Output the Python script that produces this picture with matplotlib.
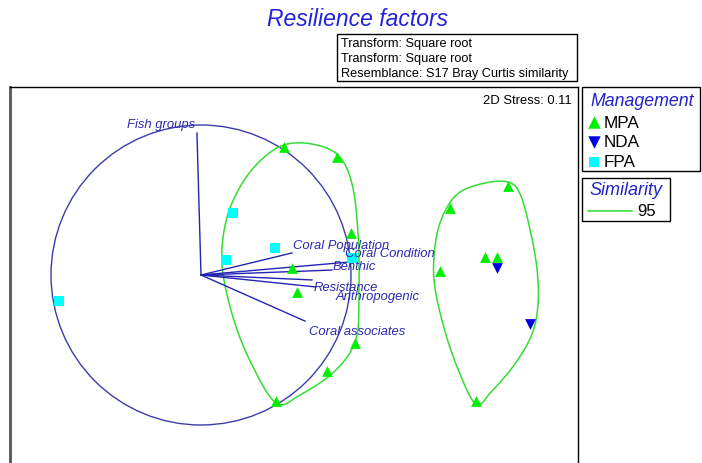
import numpy as np
import matplotlib
matplotlib.use("Agg")
import matplotlib.pyplot as plt
from matplotlib.patches import Rectangle, Circle

plt.rcParams['font.family'] = ['Liberation Sans', 'DejaVu Sans']

# ---------------- data ----------------
title = "Resilience factors"
info_lines = ["Transform: Square root", "Transform: Square root",
              "Resemblance: S17 Bray Curtis similarity"]
stress_text = "2D Stress: 0.11"

mpa_x = [0.553, 0.907, 1.000, 0.607, 0.640, 1.027, 0.840, 0.500,
         1.660, 2.047, 1.593, 1.893, 1.973, 1.833]
mpa_y = [0.853, 0.787, 0.280, 0.047, -0.113, -0.453, -0.640, -0.840,
         0.447, 0.593, 0.027, 0.120, 0.120, -0.840]
nda_x = [1.973, 2.193]
nda_y = [0.047, -0.327]
fpa_x = [0.213, 0.493, 0.167, 1.007, -0.947]
fpa_y = [0.413, 0.180, 0.100, 0.113, -0.173]

vec_names = ["Fish groups", "Coral Population", "Coral Condition", "Benthic",
             "Anthropogenic", "Resistance", "Coral associates"]
vec_x = [-0.027, 0.607, 0.993, 0.873, 0.740, 0.767, 0.693]
vec_y = [0.947, 0.147, 0.087, 0.033, -0.033, -0.080, -0.307]

# similarity 95 contours
c1_x = [0.500, 0.327, 0.207, 0.140, 0.167, 0.260, 0.393, 0.553, 0.740, 0.913,
        1.007, 1.047, 1.053, 1.033, 0.893, 0.660]
c1_y = [-0.853, -0.573, -0.260, 0.073, 0.360, 0.587, 0.760, 0.867, 0.873, 0.800,
        0.607, 0.273, -0.093, -0.427, -0.640, -0.800]
c2_x = [1.833, 1.713, 1.613, 1.553, 1.567, 1.627, 1.727, 1.893, 2.047, 2.127,
        2.193, 2.240, 2.247, 2.207, 2.093, 1.940]
c2_y = [-0.860, -0.627, -0.327, -0.027, 0.240, 0.427, 0.553, 0.613, 0.620, 0.540,
        0.307, 0.040, -0.193, -0.393, -0.593, -0.773]

groups = ["MPA", "NDA", "FPA"]
similarity_level = "95"


def closed_spline(xs, ys, n=30):
    p = np.column_stack([xs, ys])
    m = len(p)
    out = []
    for i in range(m):
        p0, p1, p2, p3 = p[(i - 1) % m], p[i], p[(i + 1) % m], p[(i + 2) % m]
        t = np.linspace(0, 1, n, endpoint=False)[:, None]
        pt = 0.5 * ((2 * p1) + (-p0 + p2) * t + (2 * p0 - 5 * p1 + 4 * p2 - p3) * t ** 2
                    + (-p0 + 3 * p1 - 3 * p2 + p3) * t ** 3)
        out.append(pt)
    out = np.vstack(out)
    out = np.vstack([out, out[:1]])
    return out[:, 0], out[:, 1]


W, H = 702, 464
fig = plt.figure(figsize=(W / 100, H / 100), dpi=100)

# main axes in pixel geometry
L, R, T, B = 10, 578, 88, 480
ax = fig.add_axes([L / W, 1 - B / H, (R - L) / W, (B - T) / H])
ox, oy, s = 201, 276, 150.0
ax.set_xlim((L - ox) / s, (R - ox) / s)
ax.set_ylim((oy - B) / s, (oy - T) / s)
ax.set_xticks([])
ax.set_yticks([])
ax.spines['left'].set_color('#555555')
ax.spines['left'].set_linewidth(2)
ax.spines['top'].set_color('black')
ax.spines['top'].set_linewidth(1)
ax.spines['right'].set_color('black')
ax.spines['right'].set_linewidth(1)
ax.spines['bottom'].set_visible(False)

vec_col = '#2424b4'
ax.add_patch(Circle((0, 0), 1.0, fill=False, edgecolor='#3c3caa', linewidth=1.0, zorder=2))

for (cx, cy) in [(c1_x, c1_y), (c2_x, c2_y)]:
    sx, sy = closed_spline(cx, cy)
    ax.plot(sx, sy, color='#33dd33', linewidth=1.1, zorder=2)

label_off = [(-2, 9, 'right'), (1, 8, 'left'), (-5, 9, 'left'), (1, 4, 'left'),
             (24, -16, 'left'), (-2, 0, 'left'), (4, -10, 'left')]
for name, vx, vy, (dx, dy, ha) in zip(vec_names, vec_x, vec_y, label_off):
    ax.plot([0, vx], [0, vy], color=vec_col, linewidth=1.0, zorder=3)
    ax.annotate(name, (vx, vy), xytext=(dx, dy), textcoords='offset pixels',
                ha=ha, va='center', fontsize=9.4, style='italic', color='#2a2ab0', zorder=5)

ax.scatter(mpa_x, mpa_y, marker='^', s=60, color='#00ee00', linewidths=0, zorder=4)
ax.scatter(nda_x, nda_y, marker='v', s=60, color='#0000dd', linewidths=0, zorder=4)
ax.scatter(fpa_x, fpa_y, marker='s', s=50, color='#00ffff', linewidths=0, zorder=4)

ax.text(572 / 1.0, 0, "", transform=None)
ax.text((572 - L) / (R - L), 1 - (101 - T) / (B - T), stress_text, transform=ax.transAxes,
        ha='right', va='center', fontsize=9.4, color='black')

# overlay in pixel coordinates
ov = fig.add_axes([0, 0, 1, 1], zorder=10)
ov.set_xlim(0, W)
ov.set_ylim(H, 0)
ov.axis('off')
ov.patch.set_alpha(0)

ov.text(358, 20, title, ha='center', va='center', fontsize=16.5, style='italic', color='#2222dd')

ov.add_patch(Rectangle((337, 35), 240, 47, fill=False, edgecolor='black', linewidth=1))
for i, line in enumerate(info_lines):
    ov.text(341, 44 + 15 * i, line, ha='left', va='center', fontsize=9.2, color='black')

# Management legend
ov.add_patch(Rectangle((582, 88), 118, 84, fill=False, edgecolor='black', linewidth=1))
ov.text(590, 101, "Management", ha='left', va='center', fontsize=12.8, style='italic', color='#2222cc')
mk = [('^', '#00ee00', 80), ('v', '#0000dd', 80), ('s', '#00ffff', 60)]
for i, (g, (m, c, sz)) in enumerate(zip(groups, mk)):
    y = 123 + 20 * i
    ov.scatter([594], [y], marker=m, s=sz, color=c, linewidths=0)
    ov.text(604, y, g, ha='left', va='center', fontsize=12.3, color='black')

# Similarity legend
ov.add_patch(Rectangle((582, 179), 88, 43, fill=False, edgecolor='black', linewidth=1))
ov.text(589, 191, "Similarity", ha='left', va='center', fontsize=13, style='italic', color='#2222cc')
ov.plot([588, 632], [212, 212], color='#33dd33', linewidth=1.1)
ov.text(637, 212, similarity_level, ha='left', va='center', fontsize=12, color='black')

fig.savefig("out.png", dpi=100)
